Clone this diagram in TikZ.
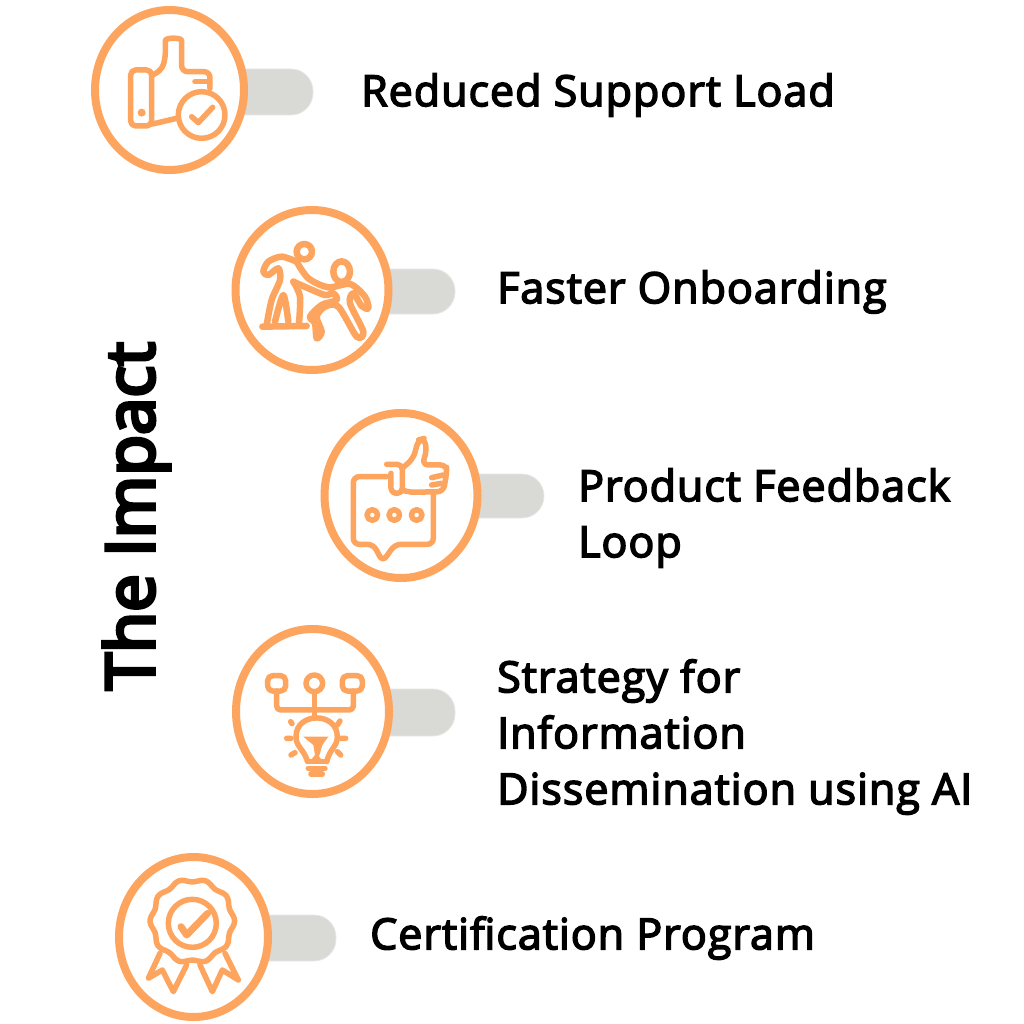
\documentclass[tikz,border=0pt]{standalone}
\usepackage{fontspec}
\setmainfont{Open Sans}
\newfontfamily\labelfont[FakeBold=3.5,LetterSpace=2.3]{Open Sans}
\newfontfamily\titlefont[FakeBold=5.5]{Open Sans}
\usetikzlibrary{shapes.geometric}
\definecolor{impactorange}{HTML}{FDA55E}
\definecolor{pillgray}{HTML}{D9D9D6}
\tikzset{
  badge/.style={draw=impactorange,line width=8pt,ellipse,fill=white,minimum width=149pt,minimum height=160pt,inner sep=0pt},
  widebadge/.style={badge,minimum width=153pt},
  pill/.style={fill=pillgray,draw=pillgray!60!white,line width=0.8pt,rounded corners=22pt},
  label/.style={anchor=west,align=left,font=\labelfont\fontsize{43}{56}\selectfont,text=black,inner sep=0pt},
  icon/.style={draw=impactorange,line width=5.5pt,line join=round,line cap=round},
  zoomed/.style={x=0.3333pt,y=-0.3333pt}
}
\begin{document}
\begin{tikzpicture}[x=1pt,y=-1pt]
\useasboundingbox (0,0) rectangle (1024,1024);
\fill[white] (0,0) rectangle (1024,1024);
% pills
\draw[pill] (200,69) rectangle (313,115);
\draw[pill] (340,269) rectangle (455,314);
\draw[pill] (430,474) rectangle (544,518);
\draw[pill] (340,689) rectangle (455,736);
\draw[pill] (220,915) rectangle (336,961);
% circles
\node[badge] (support) at (169.5,90) {};
\node[widebadge] (onboard) at (312,290) {};
\node[widebadge,minimum height=165pt] (feedback) at (401,495.5) {};
\node[widebadge,minimum height=165pt] (strategy) at (312.5,711.5) {};
\node[badge] (certify) at (193.5,937) {};
% labels
\node[label] (supportlabel) at (361,95) {Reduced Support Load};
\node[label] (onboardlabel) at (497,292) {Faster Onboarding};
\node[label] (feedbacklabel) at (578,518) {Product Feedback\\Loop};
\node[label] (strategylabel) at (497,737) {Strategy for\\Information\\Dissemination using AI};
\node[label] (certifylabel) at (370,938) {Certification Program};
\node[rotate=90,anchor=base,inner sep=0pt,font=\titlefont\fontsize{67}{80}\selectfont] (title) at (154,516) {The Impact};
% thumb with check
\begin{scope}[shift={(80,0)},zoomed]
\draw[icon,rounded corners=5pt] (152,210) -- (215,210) -- (215,378) -- (152,378) -- cycle;
\fill[impactorange] (185,338) circle (12);
\draw[icon,rounded corners=6pt] (218,225) -- (245,210) -- (256,175) -- (256,140) .. controls (256,112) and (305,112) .. (305,140) -- (305,215) -- (390,215) -- (390,265);
\draw[icon] (345,245) -- (385,245);
\draw[icon] (218,372) -- (290,355);
\draw[icon] (365,345) circle (70);
\draw[icon] (335,350) -- (355,368) -- (398,322);
\end{scope}
% two figures
\begin{scope}[shift={(225,200)},zoomed]
\draw[icon,line width=6.5pt] (238,155) circle (23);
\draw[icon,line width=6.5pt] (350,215) ellipse (25 and 31);
\draw[icon,line width=6.5pt] plot[smooth] coordinates {(215,185) (170,170) (130,185) (115,215) (130,225) (160,205) (165,240) (140,300) (125,375)};
\draw[icon,line width=6.5pt] (112,380) -- (245,378);
\draw[icon,line width=6.5pt] plot[smooth] coordinates {(150,365) (175,285) (190,365)};
\draw[icon,line width=6.5pt] plot[smooth] coordinates {(222,370) (225,290) (205,245)};
\draw[icon,line width=6.5pt] plot[smooth] coordinates {(215,185) (250,235) (310,262) (375,252) (420,290) (430,325) (410,318) (385,280) (375,310) (415,395) (395,410) (340,320) (300,320) (275,350) (290,395) (275,415) (270,370) (255,350) (290,315) (335,300) (325,280) (300,285) (250,265) (205,245)};
\end{scope}
% bubble with thumb
\begin{scope}[shift={(315,405)},zoomed]
\draw[icon,rounded corners=6pt] (215,215) -- (115,215) -- (115,418) -- (175,418) -- (203,470) -- (240,418) -- (355,418) -- (355,265);
\foreach \dotx in {172,238,305} \draw[icon] (\dotx,330) circle (16);
\draw[icon,rounded corners=5pt] (215,178) -- (262,178) -- (262,265) -- (228,265) -- (228,205);
\draw[icon,rounded corners=6pt] (262,190) -- (295,160) -- (310,105) -- (328,100) -- (335,135) -- (322,180) -- (395,180) -- (395,205) -- (385,260) -- (280,262) -- (262,255);
\draw[icon] (350,218) -- (385,210);
\draw[icon] (350,240) -- (380,235);
\end{scope}
% network with bulb
\begin{scope}[shift={(225,620)},zoomed]
\draw[icon,rounded corners=5pt] (128,167) rectangle (182,213);
\draw[icon] (268,190) circle (25);
\draw[icon,rounded corners=5pt] (352,167) rectangle (412,213);
\draw[icon,rounded corners=4pt] (155,213) -- (155,270) -- (385,270) -- (385,213);
\draw[icon] (268,215) -- (268,295);
\draw[icon] (248,425) .. controls (235,385) and (213,380) .. (213,350) .. controls (213,275) and (337,275) .. (337,350) .. controls (337,380) and (315,385) .. (305,425);
\draw[icon] (248,425) -- (305,425) (250,445) -- (300,445) (258,462) -- (292,462);
\fill[impactorange] (235,350) -- (310,350) -- (292,375) -- (282,410) -- (300,430) -- (250,430) -- (270,405) -- (265,375) -- cycle;
\draw[icon] (197,305) -- (201,311) (185,355) -- (198,355) (198,405) -- (210,398) (345,303) -- (337,315) (347,355) -- (362,355) (337,395) -- (347,405);
\end{scope}
% rosette
\begin{scope}[shift={(105,845)},zoomed]
\draw[icon] plot[smooth cycle,samples=60,domain=0:354] ({262+(122+5*cos(10*\x))*cos(\x)},{228+(122+5*cos(10*\x))*sin(\x)});
\draw[icon] (262,235) circle (72);
\draw[icon,line width=7pt] (228,245) -- (245,270) -- (308,205);
\draw[icon] (165,325) -- (130,400) -- (172,375) -- (205,440) -- (245,360);
\draw[icon] (360,325) -- (400,405) -- (352,375) -- (322,440) -- (285,360);
\end{scope}
\end{tikzpicture}
\end{document}
